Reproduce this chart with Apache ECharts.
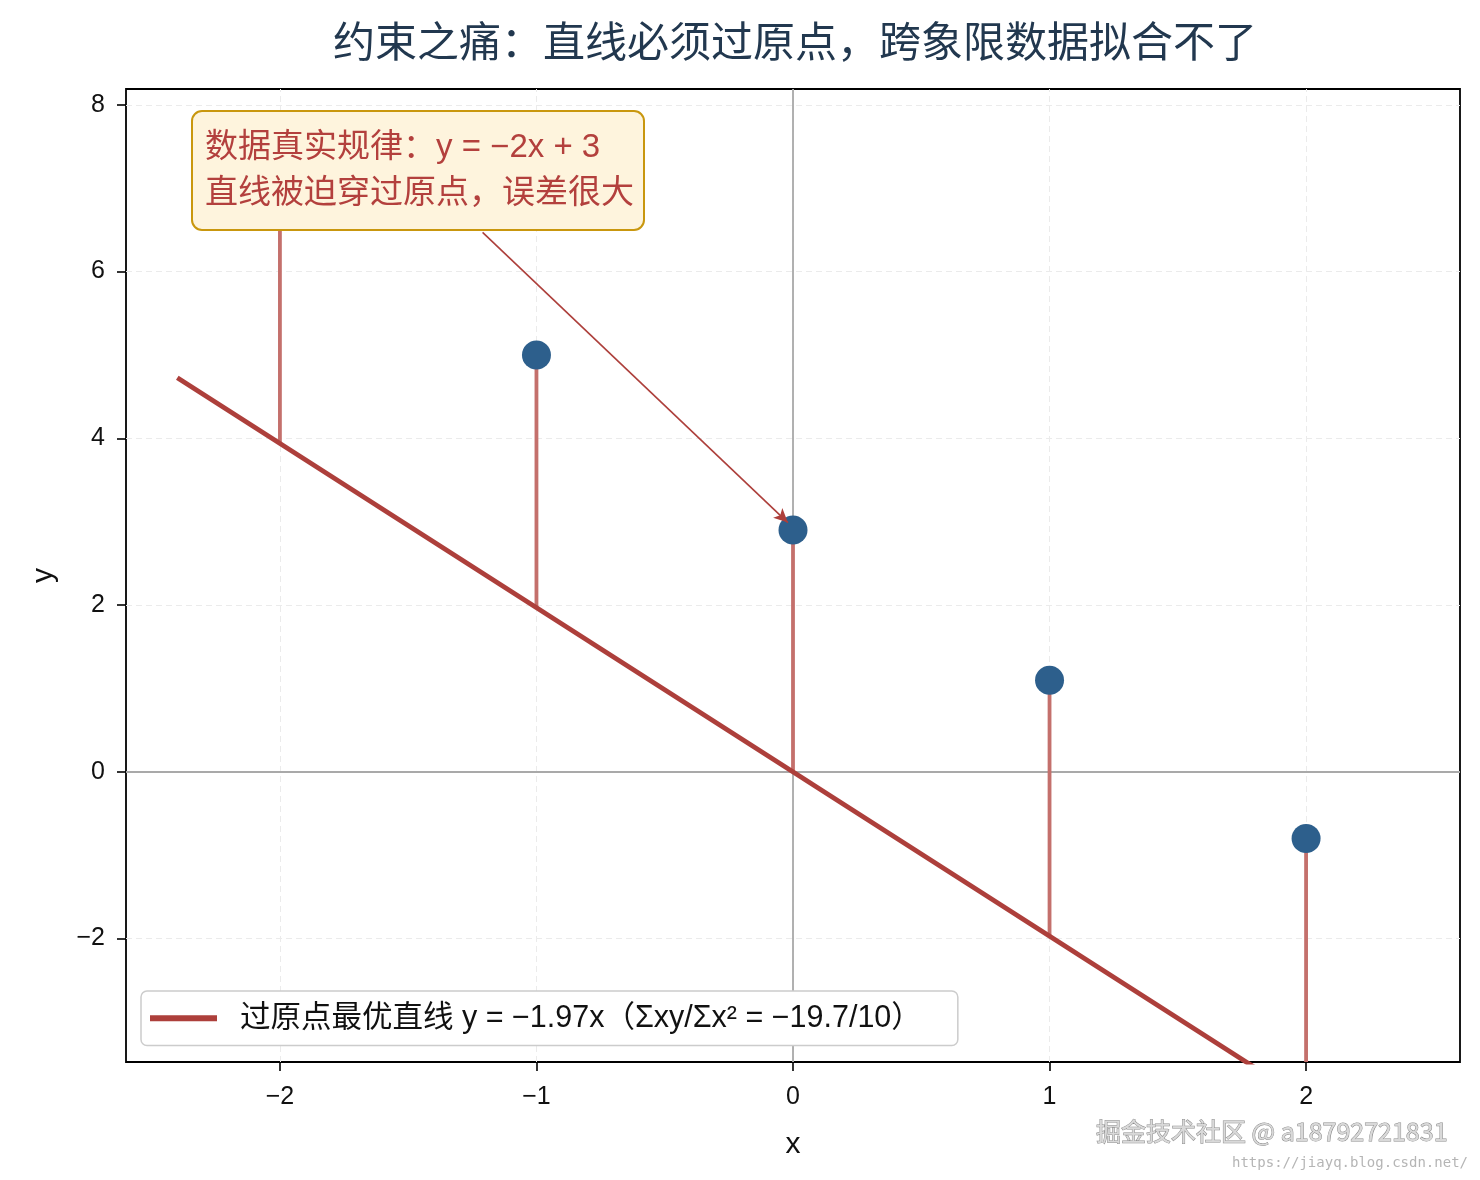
<!DOCTYPE html>
<html>
<head>
<meta charset="utf-8">
<script src="https://cdn.jsdelivr.net/npm/echarts@6/dist/echarts.min.js"></script>
<style>
html, body { margin: 0; padding: 0; background: #fff; }
#chart { width: 1480px; height: 1180px; }
</style>
</head>
<body>
<div id="chart"></div>
<script>
// 观测数据（真实规律 y = -2x + 3 加噪声）
var xs = [-2, -1, 0, 1, 2];
var ys = [7.1, 5.0, 2.9, 1.1, -0.8];
// 过原点最优斜率 Σxy/Σx² = -19.7/10
var slope = -1.97;
var lineXs = [-2.4, 2.4];
var xTicks = [-2, -1, 0, 1, 2];
var yTicks = [-2, 0, 2, 4, 6, 8];

var fitName = '过原点最优直线 y = −1.97x（Σxy/Σx² = −19.7/10）';
var mixFont = '"Liberation Sans", "Noto Sans CJK SC", sans-serif';

function minus(v) {
    return String(v).replace('-', '\u2212');
}

var chart = echarts.init(document.getElementById('chart'));

var fitData = lineXs.map(function (x) { return [x, slope * x]; });
var residData = xs.map(function (x, i) { return [x, ys[i], slope * x]; });
var pointData = xs.map(function (x, i) { return [x, ys[i]]; });

var gridLines = [];
xTicks.forEach(function (v) { gridLines.push({ xAxis: v }); });
yTicks.forEach(function (v) { gridLines.push({ yAxis: v }); });

chart.setOption({
    animation: false,
    backgroundColor: '#fff',
    title: {
        text: '约束之痛：直线必须过原点，跨象限数据拟合不了',
        left: 790,
        textAlign: 'center',
        top: 19,
        textStyle: { fontFamily: mixFont, fontSize: 42, fontWeight: 'normal', color: '#22384f' }
    },
    grid: {
        left: 126, right: 20, top: 89, bottom: 118,
        show: true, borderColor: '#000', borderWidth: 1.8, backgroundColor: 'transparent'
    },
    legend: {
        data: [fitName],
        left: 141,
        top: 991,
        orient: 'vertical',
        padding: [12, 36, 12, 9],
        backgroundColor: '#fff',
        borderColor: '#cccccc',
        borderWidth: 1.5,
        borderRadius: 6,
        icon: 'rect',
        itemWidth: 67,
        itemHeight: 6,
        textStyle: { fontFamily: mixFont, fontSize: 30.5, color: '#111', padding: [0, 0, 0, 18] }
    },
    xAxis: {
        type: 'value',
        min: -2.6,
        max: 2.6,
        name: 'x',
        nameLocation: 'middle',
        nameGap: 68,
        nameTextStyle: { fontFamily: mixFont, fontSize: 30, color: '#111' },
        axisLine: { show: false, onZero: false },
        axisTick: { show: true, customValues: xTicks, length: 9, lineStyle: { color: '#000', width: 1.6 } },
        axisLabel: { customValues: xTicks, formatter: minus, fontFamily: mixFont, fontSize: 25, color: '#111', margin: 23 },
        splitLine: { show: false }
    },
    yAxis: {
        type: 'value',
        min: -3.48,
        max: 8.19,
        name: 'y',
        nameLocation: 'middle',
        nameGap: 67,
        nameRotate: 90,
        nameTextStyle: { fontFamily: mixFont, fontSize: 30, color: '#111' },
        axisLine: { show: false, onZero: false },
        axisTick: { show: true, customValues: yTicks, length: 9, lineStyle: { color: '#000', width: 1.6 } },
        axisLabel: { customValues: yTicks, formatter: minus, fontFamily: mixFont, fontSize: 25, color: '#111', margin: 21, padding: [6, 0, 0, 0] },
        splitLine: { show: false }
    },
    series: [
        {
            // 背景网格与坐标零线
            type: 'line',
            data: [],
            z: 1,
            markLine: {
                z: 1,
                silent: true,
                symbol: ['none', 'none'],
                label: { show: false },
                data: gridLines.map(function (d) {
                    return Object.assign({ lineStyle: { color: '#ebebeb', width: 1, type: [6, 4] } }, d);
                }).concat([
                    { xAxis: 0, lineStyle: { color: '#a9a9a9', width: 1.8, type: 'solid' } },
                    { yAxis: 0, lineStyle: { color: '#a9a9a9', width: 1.8, type: 'solid' } }
                ])
            }
        },
        {
            // 残差竖线
            type: 'custom',
            z: 2,
            clip: true,
            data: residData,
            renderItem: function (params, api) {
                var p1 = api.coord([api.value(0), api.value(1)]);
                var p2 = api.coord([api.value(0), api.value(2)]);
                return {
                    type: 'line',
                    shape: { x1: p1[0], y1: p1[1], x2: p2[0], y2: p2[1] },
                    style: { stroke: '#c4706c', lineWidth: 3.8 }
                };
            }
        },
        {
            name: fitName,
            type: 'line',
            z: 3,
            clip: true,
            showSymbol: false,
            data: fitData,
            itemStyle: { color: '#ad3f3b' },
            lineStyle: { color: '#ad3f3b', width: 4.8 }
        },
        {
            type: 'scatter',
            z: 4,
            data: pointData,
            symbolSize: 29,
            itemStyle: { color: '#2d5f8c', opacity: 1 },
            markLine: {
                z: 5,
                silent: true,
                symbol: ['none', 'arrow'],
                symbolSize: [10, 14],
                label: { show: false },
                lineStyle: { color: '#ad3f3b', width: 1.6, type: 'solid' },
                data: [[{ coord: [-1.21, 6.47] }, { coord: [-0.02, 2.99] }]]
            }
        }
    ],
    graphic: [
        {
            type: 'group',
            left: 191,
            top: 110,
            z: 100,
            children: [
                {
                    type: 'rect',
                    z: 100,
                    shape: { x: 0, y: 0, width: 452, height: 119, r: 10 },
                    style: { fill: '#fef4dd', stroke: '#c9970e', lineWidth: 2 }
                },
                {
                    type: 'text',
                    z: 101,
                    x: 13,
                    y: 14,
                    style: {
                        text: '数据真实规律：y = −2x + 3\n直线被迫穿过原点，误差很大',
                        font: '33px ' + mixFont,
                        fill: '#b3403d',
                        lineHeight: 46
                    }
                }
            ]
        },
        {
            type: 'text',
            right: 32,
            top: 1118,
            z: 100,
            style: {
                text: '掘金技术社区 @ a18792721831',
                font: '25px "Noto Sans CJK SC", sans-serif',
                fill: '#d9d9d9',
                stroke: '#8c8c8c',
                lineWidth: 1
            }
        },
        {
            type: 'text',
            right: 12,
            top: 1156,
            z: 100,
            style: {
                text: 'https://jiayq.blog.csdn.net/',
                font: '14px "DejaVu Sans Mono", monospace',
                fill: '#b5b5b5'
            }
        }
    ]
});
</script>
</body>
</html>
